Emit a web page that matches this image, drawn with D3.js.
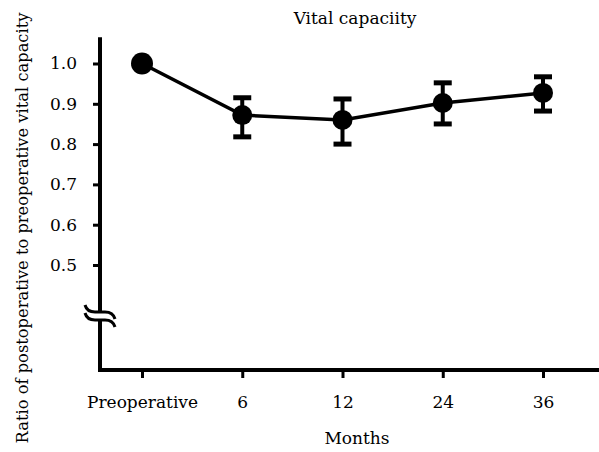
<!DOCTYPE html>
<html><head><meta charset="utf-8">
<script src="https://cdn.jsdelivr.net/npm/d3@7"></script>
<style>body{margin:0;background:#fff}svg{display:block}</style>
</head><body>
<svg id="c" width="599" height="452"></svg>
<script>
const categories = ["Preoperative", "6", "12", "24", "36"];
const means = [1.0, 0.872, 0.860, 0.902, 0.927];
const upper = [null, 0.915, 0.912, 0.952, 0.967];
const lower = [null, 0.818, 0.800, 0.850, 0.882];
const yTicks = [0.5, 0.6, 0.7, 0.8, 0.9, 1.0];
const title = "Vital capaciity";
const xTitle = "Months";
const yTitle = "Ratio of postoperative to preoperative vital capacity";

const svg = d3.select("#c");
const font = "'DejaVu Serif', serif";
const fs = 17;
const axisX = 100, axisBottom = 370;
const x = d3.scalePoint().domain(categories).range([142, 543]);
const y = d3.scaleLinear().domain([0.5, 1.0]).range([265, 63.5]);

// title
svg.append("text").attr("x", 355).attr("y", 24).attr("text-anchor", "middle")
  .attr("font-family", font).attr("font-size", fs).text(title);

// y axis
const yAxis = d3.axisLeft(y).tickValues(yTicks).tickFormat(d3.format(".1f")).tickSize(7).tickPadding(16);
const gy = svg.append("g").attr("transform", `translate(${axisX},0)`).call(yAxis);
gy.select(".domain").remove();
gy.selectAll(".tick line").attr("stroke", "#000").attr("stroke-width", 3);
gy.selectAll(".tick text").attr("font-family", font).attr("font-size", fs).attr("fill", "#000");

// y axis line with break
const breakTop = 312, breakBot = 320;
svg.append("line").attr("x1", axisX).attr("x2", axisX).attr("y1", y(1.065)).attr("y2", breakTop)
  .attr("stroke", "#000").attr("stroke-width", 4);
svg.append("line").attr("x1", axisX).attr("x2", axisX).attr("y1", breakBot).attr("y2", axisBottom + 2)
  .attr("stroke", "#000").attr("stroke-width", 4);
// break waves
[breakTop, breakBot].forEach(cy => {
  svg.append("path")
    .attr("d", `M${axisX-15},${cy-7} Q${axisX-13},${cy} ${axisX-5},${cy} L${axisX+5},${cy} Q${axisX+13},${cy} ${axisX+15},${cy+7}`)
    .attr("fill", "none").attr("stroke", "#000").attr("stroke-width", 3);
});

// x axis
const xAxis = d3.axisBottom(x).tickSize(8).tickPadding(18);
const gx = svg.append("g").attr("transform", `translate(0,${axisBottom})`).call(xAxis);
gx.select(".domain").remove();
gx.selectAll(".tick line").attr("stroke", "#000").attr("stroke-width", 3);
gx.selectAll(".tick text").attr("font-family", font).attr("font-size", fs).attr("fill", "#000");
svg.append("line").attr("x1", axisX - 2).attr("x2", 599).attr("y1", axisBottom).attr("y2", axisBottom)
  .attr("stroke", "#000").attr("stroke-width", 4);

// axis titles
svg.append("text").attr("x", 357).attr("y", 444).attr("text-anchor", "middle")
  .attr("font-family", font).attr("font-size", fs).text(xTitle);
svg.append("text").attr("transform", "translate(28,228) rotate(-90)").attr("text-anchor", "middle")
  .attr("font-family", font).attr("font-size", 16.3).text(yTitle);

// line
const line = d3.line().x((d, i) => x(categories[i])).y(d => y(d));
svg.append("path").datum(means).attr("d", line).attr("fill", "none").attr("stroke", "#000").attr("stroke-width", 3.5);

// error bars
categories.forEach((c, i) => {
  if (upper[i] == null) return;
  const cx = x(c);
  svg.append("line").attr("x1", cx).attr("x2", cx).attr("y1", y(upper[i])).attr("y2", y(lower[i]))
    .attr("stroke", "#000").attr("stroke-width", 4);
  [upper[i], lower[i]].forEach(v => {
    svg.append("line").attr("x1", cx - 9).attr("x2", cx + 9).attr("y1", y(v)).attr("y2", y(v))
      .attr("stroke", "#000").attr("stroke-width", 5);
  });
});

// markers
svg.selectAll("circle.pt").data(means).enter().append("circle")
  .attr("cx", (d, i) => x(categories[i])).attr("cy", d => y(d))
  .attr("r", (d, i) => i === 0 ? 11 : 10).attr("fill", "#000");
</script>
</body></html>
